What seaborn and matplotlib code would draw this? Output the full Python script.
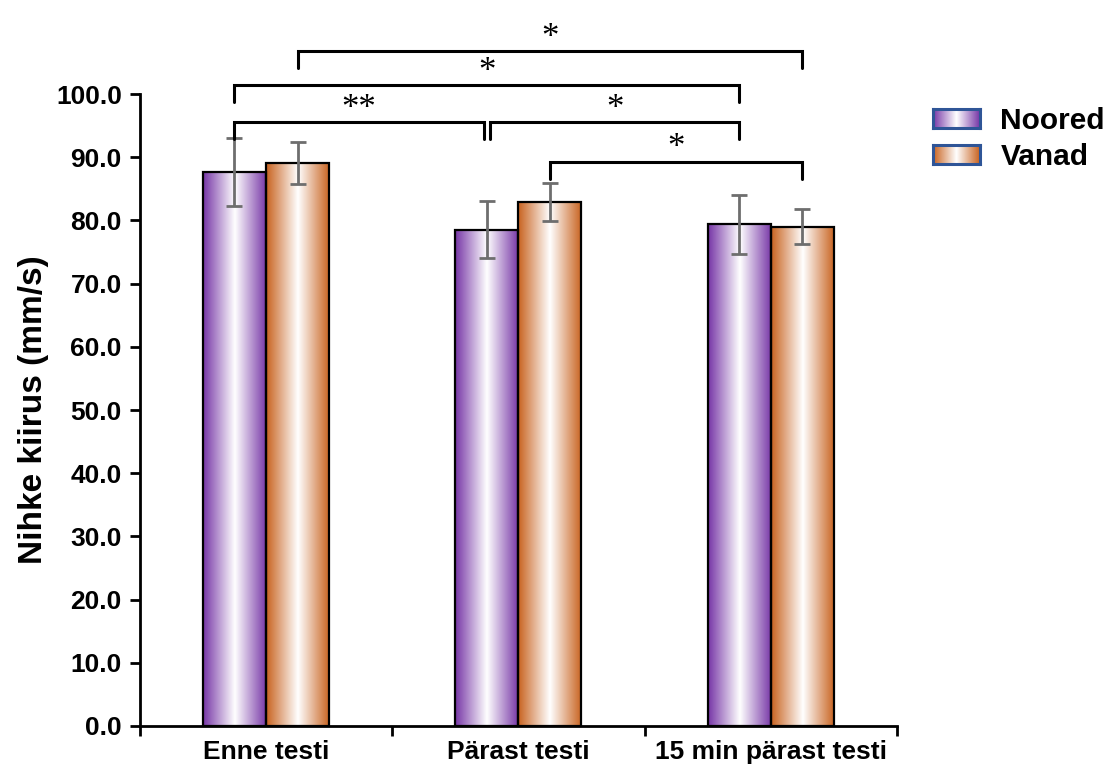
import numpy as np
import pandas as pd
import matplotlib
matplotlib.use("Agg")
import matplotlib.pyplot as plt
import seaborn as sns
from matplotlib.colors import to_rgb
from matplotlib.patches import Patch

# ---------------- data ----------------
categories = ["Enne testi", "Pärast testi", "15 min pärast testi"]
groups = ["Noored", "Vanad"]
noored_mean = [87.7, 78.5, 79.4]
vanad_mean = [89.1, 82.9, 79.0]
noored_sd = [5.4, 4.5, 4.7]
vanad_sd = [3.3, 3.0, 2.8]
y_ticks = [0, 10, 20, 30, 40, 50, 60, 70, 80, 90, 100]

# significance brackets: (cat_left, group_left, cat_right, group_right, y, label)
brackets = [
    (0, "Vanad", 2, "Vanad", 106.8, "*"),
    (0, "Noored", 2, "Noored", 101.4, "*"),
    (0, "Noored", 1, "Noored", 95.6, "**"),
    (1, "Noored", 2, "Noored", 95.6, "*"),
    (1, "Vanad", 2, "Vanad", 89.3, "*"),
]

base_colors = {"Noored": "#7635A6", "Vanad": "#C8621F"}
legend_edge = "#2F5597"

df = pd.DataFrame({
    "Aeg": categories * 2,
    "Grupp": [groups[0]] * 3 + [groups[1]] * 3,
    "Väärtus": noored_mean + vanad_mean,
    "SD": noored_sd + vanad_sd,
})

sns.set_style("white")
plt.rcParams["font.family"] = ["Liberation Sans", "DejaVu Sans"]
for k in ["text.color", "axes.labelcolor", "xtick.color", "ytick.color"]:
    plt.rcParams[k] = "black"

fig = plt.figure(figsize=(11.10, 7.71), dpi=100)
ax = fig.add_axes([0.126, 0.0584, 0.682, 0.8196])

sns.barplot(data=df, x="Aeg", y="Väärtus", hue="Grupp", order=categories,
            hue_order=groups, palette=base_colors, width=0.5, errorbar=None,
            edgecolor="black", linewidth=1.6, ax=ax, legend=False)


def gradient(color, n=256):
    c = np.array(to_rgb(color))
    t = np.linspace(0, 1, n)
    s = np.abs(2 * t - 1) ** 1.0
    rgb = (1 - s)[:, None] * np.ones(3)[None, :] + s[:, None] * c[None, :]
    return rgb[None, :, :]


# map bars (seaborn draws hue-level by hue-level)
bar_pos = {}
bars = [p for p in ax.patches]
for gi, g in enumerate(groups):
    for ci in range(len(categories)):
        p = bars[gi * len(categories) + ci]
        x, w, h = p.get_x(), p.get_width(), p.get_height()
        bar_pos[(ci, g)] = x + w / 2
        ax.imshow(gradient(base_colors[g]), extent=[x, x + w, 0, h],
                  aspect="auto", zorder=1, interpolation="bilinear")
        p.set_facecolor("none")
        p.set_zorder(2)
        sd = (noored_sd if g == "Noored" else vanad_sd)[ci]
        ax.errorbar(x + w / 2, h, yerr=sd, fmt="none", ecolor="#6E6E6E",
                    elinewidth=2, capsize=6, capthick=2, zorder=3)

ax.set_xlim(-0.5, 2.5)
ax.set_ylim(0, 100)
ax.set_aspect("auto")

# brackets
leg_len = 2.7
for cl, gl, cr, gr, y, lab in brackets:
    x1 = bar_pos[(cl, gl)]
    x2 = bar_pos[(cr, gr)]
    if lab == "**":
        x2 -= 0.012
    if (cl, gl, cr, gr) == (1, "Noored", 2, "Noored"):
        x1 += 0.012
    ax.plot([x1, x1, x2, x2], [y - leg_len, y, y, y - leg_len], color="black",
            lw=2.2, clip_on=False, solid_joinstyle="miter", zorder=4)
    ax.text((x1 + x2) / 2, y - 0.6, lab, ha="center", va="bottom",
            fontsize=25, family=["Liberation Serif", "DejaVu Serif"],
            clip_on=False)

# axes styling
for s in ["top", "right"]:
    ax.spines[s].set_visible(False)
for s in ["left", "bottom"]:
    ax.spines[s].set_color("black")
    ax.spines[s].set_linewidth(2)

ax.set_yticks(y_ticks)
ax.set_yticklabels([f"{v:.1f}" for v in y_ticks], fontsize=19, fontweight="bold")
ax.tick_params(axis="y", direction="out", length=7, width=2, left=True, pad=6)
ax.set_xticks(range(len(categories)))
ax.set_xticklabels(categories, fontsize=19, fontweight="bold")
ax.tick_params(axis="x", which="major", length=0, pad=10)
ax.set_xticks([-0.5, 0.5, 1.5, 2.5], minor=True)
ax.tick_params(axis="x", which="minor", direction="out", length=7, width=2,
               bottom=True)
ax.set_xlabel("")
ax.set_ylabel("Nihke kiirus (mm/s)", fontsize=24, fontweight="bold", labelpad=5)

# legend
handles = [Patch(facecolor="none", edgecolor="none", label=g) for g in groups]
leg = fig.legend(handles=handles, loc="upper left",
                 bbox_to_anchor=(0.830, 0.877), frameon=False,
                 prop={"size": 21.5, "weight": "bold"}, handlelength=1.55,
                 handleheight=0.58, handletextpad=0.7, labelspacing=0.27,
                 borderaxespad=0)
fig.canvas.draw()
inv = fig.transFigure.inverted()
for h, g in zip(leg.legend_handles, groups):
    bb = h.get_window_extent(fig.canvas.get_renderer())
    (x0, y0), (x1, y1) = inv.transform([[bb.x0, bb.y0], [bb.x1, bb.y1]])
    lax = fig.add_axes([x0, y0, x1 - x0, y1 - y0])
    lax.imshow(gradient(base_colors[g]), aspect="auto", interpolation="bilinear")
    lax.set_xticks([])
    lax.set_yticks([])
    for sp in lax.spines.values():
        sp.set_visible(True)
        sp.set_color(legend_edge)
        sp.set_linewidth(2.2)

fig.savefig("out.png", dpi=100)
